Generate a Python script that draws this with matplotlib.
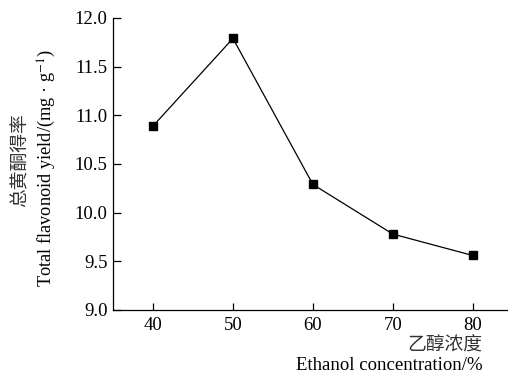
import numpy as np
import matplotlib.pyplot as plt

# data
ethanol = [40, 50, 60, 70, 80]
yield_ = [10.89, 11.79, 10.29, 9.78, 9.56]
xticks = [40, 50, 60, 70, 80]
yticks = [9.0, 9.5, 10.0, 10.5, 11.0, 11.5, 12.0]

plt.rcParams['font.family'] = ['Liberation Serif', 'Noto Sans CJK SC']
plt.rcParams['mathtext.fontset'] = 'stix'

fig = plt.figure(figsize=(5.08, 3.78), dpi=100)
ax = fig.add_axes([113 / 508, 1 - 310 / 378, 1 - 113 / 508, (310 - 18) / 378])

ax.plot(ethanol, yield_, color='black', lw=0.9, marker='s', ms=5.5,
        markerfacecolor='black', markeredgecolor='black')

ax.set_xlim(35, 84.4)
ax.set_ylim(9.0, 12.0)
ax.set_xticks(xticks)
ax.set_yticks(yticks)
ax.set_yticklabels(['%.1f' % v for v in yticks])
ax.tick_params(direction='in', labelsize=13.5, width=0.9, color='black')
ax.tick_params(axis='y', length=6, pad=4)
ax.tick_params(axis='x', length=5, pad=5)
for s in ['top', 'right']:
    ax.spines[s].set_visible(False)
for s in ['left', 'bottom']:
    ax.spines[s].set_linewidth(0.9)

# y label (two lines)
fig.text(20 / 508, 1 - 160 / 378, '总黄酮得率', rotation=90, ha='center', va='center',
         fontsize=13.5, family=['Noto Sans CJK SC'], color='#333333', weight='light')
fig.text(47 / 508, 1 - 168 / 378, 'Total flavonoid yield/(mg · g$^{-1}$)', rotation=90,
         ha='center', va='center', fontsize=13.2)

# x label (two lines)
fig.text(482 / 508, 1 - 345 / 378, '乙醇浓度', ha='right', va='center',
         fontsize=13.5, family=['Noto Sans CJK SC'], color='#333333', weight='light')
fig.text(483 / 508, 1 - 366 / 378, 'Ethanol concentration/%', ha='right', va='center',
         fontsize=13.5)

fig.savefig('out.png', dpi=100)
